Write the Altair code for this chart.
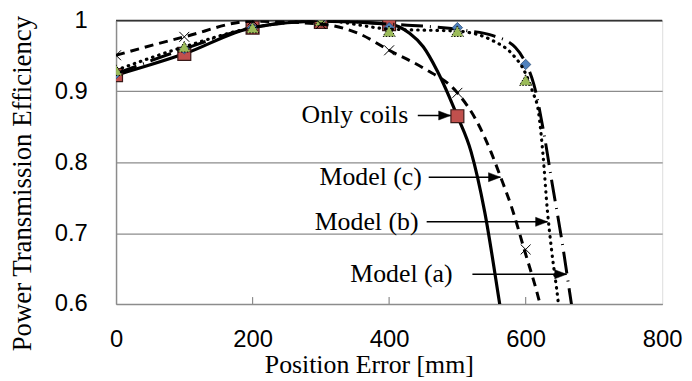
import altair as alt
import pandas as pd

# ---------------- data ----------------
X_TICKS = [0, 200, 400, 600, 800]
Y_TICKS = [0.6, 0.7, 0.8, 0.9, 1.0]

# measured points (markers)
COILS_MX = [0, 100, 200, 300, 400, 500]
COILS_MY = [0.923, 0.953, 0.990, 0.998, 0.995, 0.865]
MODEL_A_MX = [0, 100, 200, 300, 400, 500, 600]
MODEL_A_MY = [0.925, 0.960, 0.990, 1.000, 0.990, 0.990, 0.938]
MODEL_B_MX = [0, 100, 200, 300, 400, 500, 600]
MODEL_B_MY = [0.930, 0.963, 0.990, 1.000, 0.985, 0.985, 0.916]
MODEL_C_MX = [0, 100, 200, 300, 400, 500, 600]
MODEL_C_MY = [0.951, 0.977, 1.000, 0.995, 0.958, 0.898, 0.677]

# curves (lines)
COILS_LX = [0, 100, 200, 300, 400, 430, 450, 470, 500, 520, 540, 562, 575]
COILS_LY = [0.923, 0.953, 0.990, 0.999, 0.995, 0.982, 0.963, 0.930, 0.865, 0.815, 0.730, 0.600, 0.520]
MODEL_A_LX = [0, 100, 200, 300, 400, 512, 551, 585, 600, 612, 626, 639, 653, 665, 675]
MODEL_A_LY = [0.925, 0.960, 0.990, 1.000, 0.995, 0.986, 0.979, 0.962, 0.940, 0.910, 0.845, 0.769, 0.690, 0.613, 0.550]
MODEL_B_LX = [0, 100, 200, 300, 400, 500, 551, 580, 600, 610, 619, 625, 632, 638, 648, 655]
MODEL_B_LY = [0.930, 0.963, 0.990, 1.000, 0.988, 0.985, 0.972, 0.953, 0.925, 0.900, 0.870, 0.815, 0.730, 0.676, 0.600, 0.530]
MODEL_C_LX = [0, 100, 200, 300, 357, 400, 450, 500, 530, 549, 563, 580, 597, 621, 635]
MODEL_C_LY = [0.951, 0.977, 0.999, 0.995, 0.981, 0.958, 0.933, 0.898, 0.855, 0.815, 0.780, 0.735, 0.680, 0.600, 0.540]

# annotations
ANN_TEXT = ["Only coils", "Model (c)", "Model (b)", "Model (a)"]
ANN_TEXT_X = [428, 448, 443, 493]
ANN_Y = [0.866, 0.779, 0.716, 0.642]
ANN_ARROW_X1 = [442, 458, 455, 522]
ANN_ARROW_X2 = [490, 563, 632, 660]

GRID = "#8c8c8c"
SERIF = "Liberation Serif"
SANS = "Liberation Sans"

xs = alt.Scale(domain=[0, 800], nice=False)
ys = alt.Scale(domain=[0.6, 1.0], nice=False)


def line_layer(xv, yv, dash, width=3.0):
    df = pd.DataFrame({"x": xv, "y": yv})
    kw = dict(color="black", strokeWidth=width, interpolate="monotone", clip=True, strokeCap="butt")
    if dash:
        kw["strokeDash"] = dash
        kw["strokeCap"] = "round" if dash[0] < 2 else "butt"
    return alt.Chart(df).mark_line(**kw).encode(
        x=alt.X("x:Q", scale=xs), y=alt.Y("y:Q", scale=ys)
    )


def point_layer(xv, yv, shape, size, fill, stroke, sw=1.0, dash=None, filled=True):
    df = pd.DataFrame({"x": xv, "y": yv})
    kw = dict(shape=shape, size=size, filled=filled, stroke=stroke, strokeWidth=sw, opacity=1, clip=True)
    if filled:
        kw["fill"] = fill
        kw["fillOpacity"] = 1
    if dash:
        kw["strokeDash"] = dash
    return alt.Chart(df).mark_point(**kw).encode(
        x=alt.X("x:Q", scale=xs), y=alt.Y("y:Q", scale=ys)
    )


# base axes
base_df = pd.DataFrame({"x": [0], "y": [0.6]})
base = alt.Chart(base_df).mark_point(opacity=0).encode(
    x=alt.X(
        "x:Q", scale=xs,
        axis=alt.Axis(
            values=X_TICKS, title="Position Error [mm]", grid=False, ticks=False, tickSize=0,
            labelFont=SANS, labelFontSize=24, labelColor="black", labelPadding=24,
            labelFlush=False, labelOverlap=False,
            domainColor=GRID, domainWidth=1.5,
            titleFont=SERIF, titleFontSize=26, titleFontWeight="normal", titleColor="black",
            titleX=255, titleY=61, titleBaseline="middle", titleAnchor="middle",
        ),
    ),
    y=alt.Y(
        "y:Q", scale=ys,
        axis=alt.Axis(
            values=Y_TICKS, title="Power Transmission Efficiency", grid=True, gridColor=GRID,
            gridWidth=1.2, ticks=False, tickSize=0,
            labelExpr="datum.value == 1 ? '1' : format(datum.value, '.1f')",
            labelFont=SANS, labelFontSize=24, labelColor="black", labelPadding=29,
            labelFlush=False, labelOverlap=False, labelBaseline="middle",
            domainColor=GRID, domainWidth=1.5,
            titleFont=SERIF, titleFontSize=27, titleFontWeight="normal", titleColor="black",
            titleX=-94, titleY=164, titleBaseline="middle", titleAlign="center", titleAngle=-90,
        ),
    ),
)

# inner x ticks
tick_df = pd.DataFrame({"x": [200, 400, 600]})
ticks = alt.Chart(tick_df).mark_rule(color=GRID, strokeWidth=1.2).encode(
    x=alt.X("x:Q", scale=xs), y=alt.value(286), y2=alt.value(279)
)

# dark top border at 1.0
top_df = pd.DataFrame({"y": [1.0]})
top_line = alt.Chart(top_df).mark_rule(color="#333333", strokeWidth=1.5).encode(
    y=alt.Y("y:Q", scale=ys), x=alt.value(0), x2=alt.value(551)
)

XPATH = "M-1,-1L1,1M1,-1L-1,1"
ARROW = "M0,0L-1,-0.38L-1,0.38Z"

layers = [
    base,
    ticks,
    top_line,
    line_layer(COILS_LX, COILS_LY, None, 3.2),
    point_layer(COILS_MX, COILS_MY, "square", 170, "#C0504D", "#3a1a19", 1.2),
    line_layer(MODEL_A_LX, MODEL_A_LY, [22, 7, 1, 7], 3.0),
    point_layer(MODEL_A_MX, MODEL_A_MY, "diamond", 110, "#4F81BD", "#2c4d75", 0.8),
    line_layer(MODEL_B_LX, MODEL_B_LY, [0.5, 6], 3.2),
    point_layer(MODEL_B_MX, MODEL_B_MY, "triangle-up", 150, "#9BBB59", "black", 1.0, dash=[1.5, 1.5]),
    line_layer(MODEL_C_LX, MODEL_C_LY, [9, 6], 3.0),
    point_layer(MODEL_C_MX, MODEL_C_MY, XPATH, 100, None, "black", 1.0, filled=False),
]

ann_df = pd.DataFrame({
    "t": ANN_TEXT, "tx": ANN_TEXT_X, "y": ANN_Y, "x1": ANN_ARROW_X1, "x2": ANN_ARROW_X2,
})
ann_text = alt.Chart(ann_df).mark_text(
    font=SERIF, fontSize=26, align="right", baseline="middle", color="black"
).encode(x=alt.X("tx:Q", scale=xs), y=alt.Y("y:Q", scale=ys), text="t:N")
ann_rule = alt.Chart(ann_df).mark_rule(color="black", strokeWidth=1.6).encode(
    x=alt.X("x1:Q", scale=xs), x2="x2:Q", y=alt.Y("y:Q", scale=ys)
)
ann_head = alt.Chart(ann_df).mark_point(
    shape=ARROW, size=576, filled=True, fill="black", stroke="black", strokeWidth=0.5, opacity=1
).encode(x=alt.X("x2:Q", scale=xs), y=alt.Y("y:Q", scale=ys))

layers += [ann_rule, ann_head, ann_text]

chart = alt.layer(*layers).properties(
    width=551, height=286,
    autosize=alt.AutoSizeParams(type="none"),
    padding={"left": 109, "top": 11, "right": 22, "bottom": 76},
).configure_view(stroke=GRID, strokeWidth=1.2).configure(background="white")

chart.save("out.html", embed_options={"renderer": "svg", "actions": False})
